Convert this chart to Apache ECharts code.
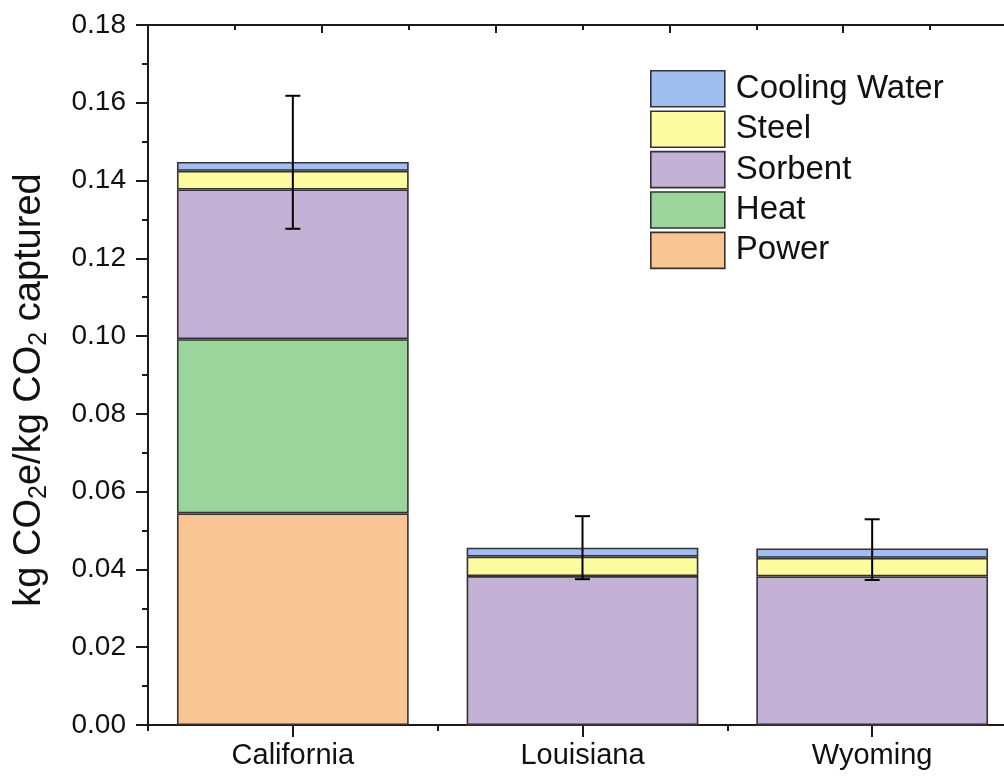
<!DOCTYPE html>
<html>
<head>
<meta charset="utf-8">
<script src="https://cdn.jsdelivr.net/npm/echarts@6/dist/echarts.min.js"></script>
<style>
html,body{margin:0;padding:0;background:#fff;overflow:hidden;}
#chart{width:1030px;height:776px;}
</style>
</head>
<body>
<div id="chart"></div>
<script>
const categories = ['California', 'Louisiana', 'Wyoming'];
const power   = [0.0544, 0, 0];
const heat    = [0.0448, 0, 0];
const sorbent = [0.0385, 0.0383, 0.0382];
const steel   = [0.0048, 0.0050, 0.0048];
const cooling = [0.0023, 0.0023, 0.0024];
const errLow  = [0.1276, 0.0375, 0.0373];
const errHigh = [0.1618, 0.0537, 0.0529];
const yTicks  = [0, 0.02, 0.04, 0.06, 0.08, 0.10, 0.12, 0.14, 0.16, 0.18];

const seriesNames = ['Power', 'Heat', 'Sorbent', 'Steel', 'Cooling Water'];
const seriesData = [power, heat, sorbent, steel, cooling];
const seriesColors = ['#f9c593', '#9cd59b', '#c3b1d6', '#fdfba0', '#a0bff0'];

const FONT = 'Liberation Sans, Arial, sans-serif';
const AX = '#1a1a1a';

const chart = echarts.init(document.getElementById('chart'), null, {renderer: 'canvas'});

const barSeries = seriesNames.map((n, i) => ({
  name: n,
  type: 'bar',
  stack: 'total',
  xAxisIndex: 0,
  yAxisIndex: 0,
  barCategoryGap: '20%',
  data: seriesData[i],
  itemStyle: {color: seriesColors[i], borderColor: '#333', borderWidth: 1.6},
  emphasis: {disabled: true},
  z: 2
}));

const errSeries = {
  type: 'custom',
  name: 'err',
  xAxisIndex: 0,
  yAxisIndex: 0,
  data: categories.map((c, i) => [i, errLow[i], errHigh[i]]),
  renderItem: function (params, api) {
    const x = api.value(0);
    const lo = api.coord([x, api.value(1)]);
    const hi = api.coord([x, api.value(2)]);
    const hw = 7.5;
    const st = {stroke: '#000', lineWidth: 2};
    return {
      type: 'group',
      children: [
        {type: 'line', shape: {x1: lo[0], y1: lo[1], x2: hi[0], y2: hi[1]}, style: st},
        {type: 'line', shape: {x1: lo[0] - hw, y1: lo[1], x2: lo[0] + hw, y2: lo[1]}, style: st},
        {type: 'line', shape: {x1: hi[0] - hw, y1: hi[1], x2: hi[0] + hw, y2: hi[1]}, style: st}
      ]
    };
  },
  z: 5,
  silent: true
};

const option = {
  animation: false,
  backgroundColor: '#ffffff',
  textStyle: {fontFamily: FONT},
  grid: {left: 148, right: 13, top: 25, bottom: 51, containLabel: false},
  legend: {
    orient: 'vertical',
    left: 650,
    top: 70,
    padding: 0,
    icon: 'rect',
    itemWidth: 74,
    itemHeight: 36,
    itemGap: 2.8,
    data: ['Cooling Water', 'Steel', 'Sorbent', 'Heat', 'Power'],
    textStyle: {fontFamily: FONT, fontSize: 33, lineHeight: 36, color: '#111', padding: [0, 0, 0, 6]},
    itemStyle: {borderColor: '#333', borderWidth: 1.6}
  },
  xAxis: [
    {
      type: 'category',
      data: categories,
      position: 'bottom',
      axisLine: {show: true, lineStyle: {color: AX, width: 2}},
      axisTick: {show: true, alignWithLabel: true, inside: false, length: 12, lineStyle: {color: AX, width: 2}},
      axisLabel: {fontFamily: FONT, fontSize: 29, color: '#111', margin: 16},
      splitLine: {show: false}
    },
    {
      type: 'category',
      data: categories,
      position: 'bottom',
      axisLine: {show: false},
      axisTick: {show: true, inside: false, length: 6, lineStyle: {color: AX, width: 2}},
      axisLabel: {show: false},
      splitLine: {show: false}
    },
    {
      type: 'value',
      min: 0,
      max: 5,
      interval: 1,
      position: 'top',
      axisLine: {show: true, onZero: false, lineStyle: {color: AX, width: 2}},
      axisTick: {show: true, inside: true, length: 8, lineStyle: {color: AX, width: 2}},
      minorTick: {show: true, splitNumber: 2, length: 5, lineStyle: {color: AX, width: 2}},
      axisLabel: {show: false},
      splitLine: {show: false}
    }
  ],
  yAxis: [
    {
      type: 'value',
      min: 0,
      max: 0.18,
      interval: 0.02,
      position: 'left',
      axisLine: {show: true, lineStyle: {color: AX, width: 2}},
      axisTick: {show: true, inside: false, length: 12, lineStyle: {color: AX, width: 2}},
      minorTick: {show: true, splitNumber: 2, length: 6, lineStyle: {color: AX, width: 2}},
      splitLine: {show: false},
      axisLabel: {
        fontFamily: FONT, fontSize: 28, color: '#111', margin: 22,
        formatter: function (v) {
          const t = yTicks.find(k => Math.abs(k - v) < 1e-9);
          return (t !== undefined ? t : v).toFixed(2);
        }
      },
      name: '{n|kg CO}{sub|2}{n|e/kg CO}{sub|2}{n| captured}',
      nameLocation: 'middle',
      nameGap: 96,
      nameRotate: 90,
      nameTextStyle: {
        fontFamily: FONT,
        color: '#111',
        padding: [0, 30, 0, 0],
        rich: {
          n: {fontFamily: FONT, fontSize: 38, color: '#111', lineHeight: 44, verticalAlign: 'middle'},
          sub: {fontFamily: FONT, fontSize: 25, color: '#111', lineHeight: 25, verticalAlign: 'bottom'}
        }
      }
    },
    {
      type: 'value',
      min: 0,
      max: 0.18,
      interval: 0.02,
      position: 'right',
      axisLine: {show: true, lineStyle: {color: AX, width: 2}},
      axisTick: {show: false},
      axisLabel: {show: false},
      splitLine: {show: false}
    }
  ],
  series: barSeries.concat([errSeries])
};

chart.setOption(option);
</script>
</body>
</html>
